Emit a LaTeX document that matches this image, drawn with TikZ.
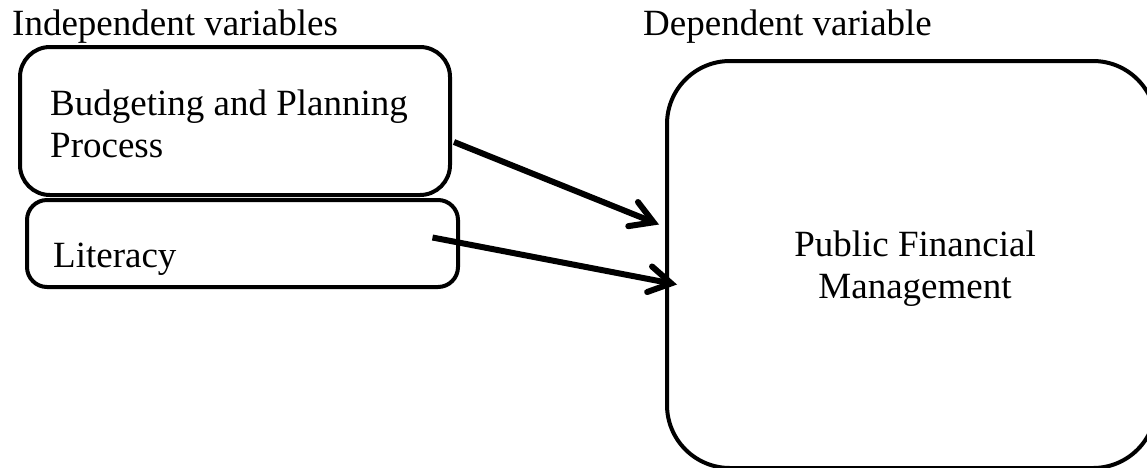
\documentclass[tikz,border=0pt]{standalone}
\usepackage{fontspec}
\setmainfont{Liberation Serif}
\usetikzlibrary{arrows.meta,calc}
\begin{document}
\begin{tikzpicture}[x=1pt,y=-1pt,
  every node/.style={font=\fontsize{37pt}{42pt}\selectfont},
  varbox/.style={draw,line width=4pt,rounded corners=#1,inner sep=0pt},
  label/.style={inner sep=0pt,anchor=base west},
  link/.style={line width=6pt,-{Straight Barb[length=22pt,width=26pt,line cap=round]}}]
\useasboundingbox (0,0) rectangle (1147,467);
\clip (0,0) rectangle (1147,467);
% headings
\node[label] (ihead) at (12,35) {Independent variables};
\node[label] (dhead) at (643,35) {Dependent variable};
% independent variable boxes (multi-line text is placed by its last baseline)
\node[varbox=30pt,minimum width=430pt,minimum height=148pt] (bp) at (235,121) {};
\node[label,align=left] (bptext) at (50,157) {Budgeting and Planning\\Process};
\node[varbox=20pt,minimum width=431pt,minimum height=87pt] (lit) at (242.5,243.5) {};
\node[label] (littext) at (53,267) {Literacy};
% dependent variable box
\node[varbox=63pt,minimum width=489pt,minimum height=407pt] (pfm) at (911.5,264.5) {};
\node[inner sep=0pt,anchor=base,align=center] (pfmtext) at (915,298) {Public Financial\\Management};
% connectors
\coordinate (e1) at ($(pfm.west)+(-6,-40)$);
\coordinate (e2) at ($(pfm.west)+(12,20)$);
\draw[link] ($(bp.east)+(2,21)$) -- (e1);
\draw[link] ($(lit.center)+(190,-6)$) -- (e2);
\end{tikzpicture}
\end{document}
